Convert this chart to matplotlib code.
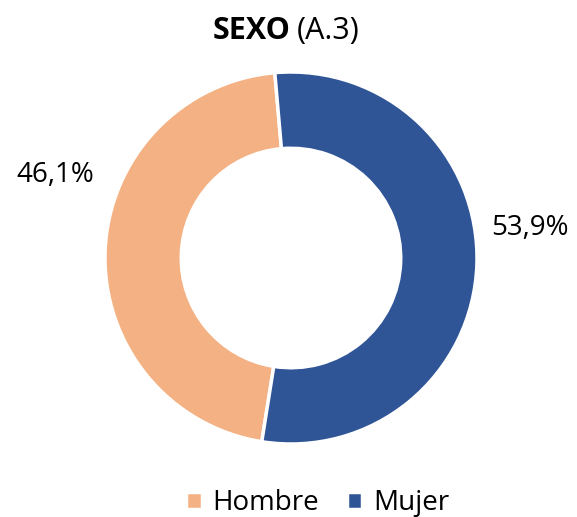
import matplotlib.pyplot as plt

categories = ["Hombre", "Mujer"]
values = [46.1, 53.9]
labels = ["46,1%", "53,9%"]
colors = ["#F4B183", "#2F5597"]

plt.rcParams['font.family'] = ['Open Sans', 'DejaVu Sans']

fig = plt.figure(figsize=(5.77, 5.17), dpi=100)
ax = fig.add_axes([0.0, 0.0, 1.0, 1.0])
ax.set_xlim(0, 577)
ax.set_ylim(517, 0)
ax.axis('off')

pax = fig.add_axes([(291 - 186) / 577, (517 - 258 - 186) / 517, 372 / 577, 372 / 517])
wedges, _ = pax.pie(values, colors=colors, startangle=95, counterclock=True, radius=1.0,
                    wedgeprops=dict(width=0.41, edgecolor='white', linewidth=2.5))
pax.set_xlim(-1, 1)
pax.set_ylim(-1, 1)
pax.set_aspect('equal')

ax.text(55, 175, labels[0], fontsize=20, ha='center', va='center')
ax.text(530, 228, labels[1], fontsize=20, ha='center', va='center')

ax.text(290, 31, "SEXO", fontsize=22, fontweight='bold', ha='right', va='center')
ax.text(297, 31, "(A.3)", fontsize=22, ha='left', va='center')

leg = fig.legend(wedges, categories, loc='center', bbox_to_anchor=(318 / 577, 1 - 503 / 517),
                 ncol=2, frameon=False, fontsize=20, handlelength=0.55, handleheight=0.55,
                 handletextpad=0.4, columnspacing=1.0)
fig.savefig("out.png", dpi=100)
